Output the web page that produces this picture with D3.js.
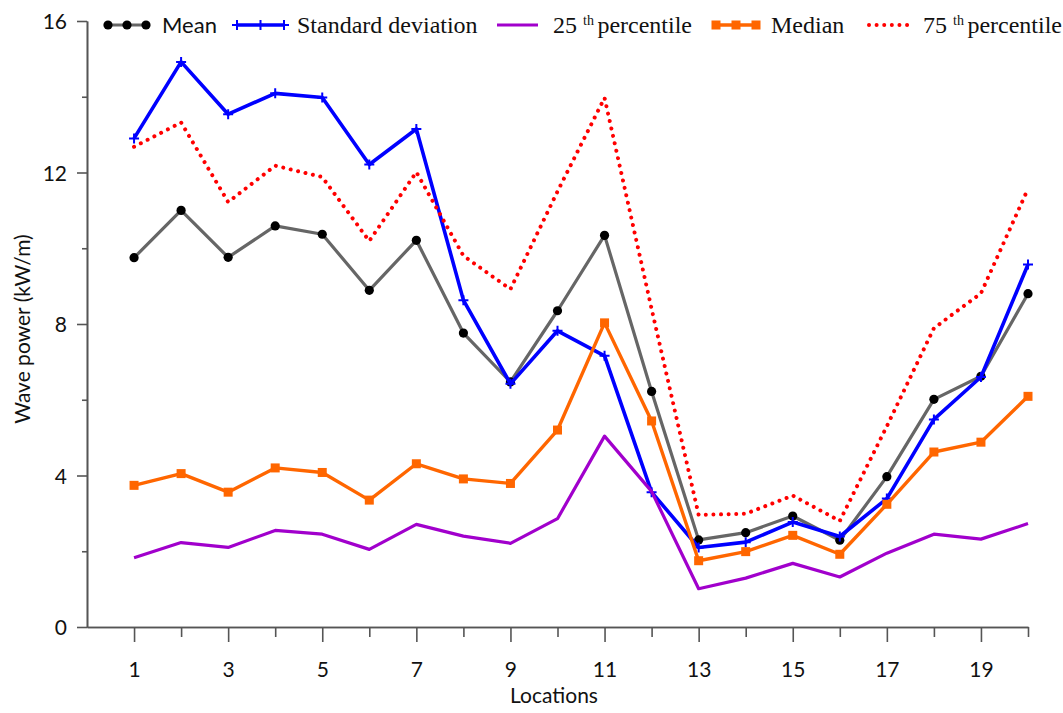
<!DOCTYPE html>
<html>
<head>
<meta charset="utf-8">
<script src="https://cdn.jsdelivr.net/npm/d3@7"></script>
<style>
  body { margin: 0; background: #fff; }
  svg { display: block; }
</style>
</head>
<body>
<svg id="chart" width="1063" height="713"></svg>
<script>
// values (kW/m)
var locations = [1, 2, 3, 4, 5, 6, 7, 8, 9, 10, 11, 12, 13, 14, 15, 16, 17, 18, 19, 20];
var meanVals = [9.75, 11.0, 9.76, 10.59, 10.37, 8.89, 10.21, 7.76, 6.47, 8.35, 10.34, 6.22, 2.3, 2.49, 2.93, 2.29, 3.97, 6.01, 6.62, 8.8];
var stdVals = [12.9, 14.92, 13.54, 14.09, 13.98, 12.21, 13.15, 8.63, 6.42, 7.82, 7.16, 3.56, 2.1, 2.24, 2.77, 2.39, 3.39, 5.48, 6.6, 9.57];
var p25Vals = [1.83, 2.23, 2.1, 2.55, 2.45, 2.05, 2.71, 2.4, 2.21, 2.86, 5.04, 3.58, 1.01, 1.29, 1.68, 1.32, 1.95, 2.45, 2.32, 2.73];
var medianVals = [3.74, 4.05, 3.56, 4.2, 4.08, 3.35, 4.31, 3.91, 3.79, 5.2, 8.03, 5.44, 1.75, 1.99, 2.42, 1.92, 3.24, 4.62, 4.88, 6.09];
var p75Vals = [12.68, 13.32, 11.22, 12.18, 11.88, 10.19, 12.01, 9.8, 8.92, 11.5, 13.97, 8.4, 2.96, 2.99, 3.47, 2.8, 5.3, 7.89, 8.81, 11.57];

var yMajor = [0, 4, 8, 12, 16];
var yMinor = [2, 6, 10, 14];
var xMajor = [1, 3, 5, 7, 9, 11, 13, 15, 17, 19];
var xMinor = [2, 4, 6, 8, 10, 12, 14, 16, 18, 20];

var sansFont = "Lato, 'Open Sans', sans-serif";
var serifFont = "'Liberation Serif', 'DejaVu Serif', serif";
var axisColor = "#555";

var svg = d3.select("#chart");
var x = d3.scaleLinear().domain([0, 20]).range([87, 1028]);
var y = d3.scaleLinear().domain([0, 16]).range([627, 21]);

//axes
var gy = svg.append("g").attr("transform", "translate(" + x(0) + ",0)");
gy.call(d3.axisLeft(y).tickValues(yMajor).tickSize(10).tickSizeOuter(0).tickPadding(10));
gy.append("g").call(d3.axisLeft(y).tickValues(yMinor).tickSize(5).tickSizeOuter(0).tickFormat(""));
gy.selectAll("text").style("font-family", sansFont).style("font-size", "21px").attr("fill", "#111").attr("dy", "0.36em");

var gx = svg.append("g").attr("transform", "translate(0," + y(0) + ")");
gx.call(d3.axisBottom(x).tickValues(xMajor).tickSize(15).tickSizeOuter(0));
gx.append("g").call(d3.axisBottom(x).tickValues(xMinor).tickSize(10).tickSizeOuter(0).tickFormat(""));
gx.selectAll("text").style("font-family", sansFont).style("font-size", "21px").attr("fill", "#111").attr("y", 50).attr("dy", 0);

svg.selectAll(".domain, .tick line").attr("stroke", axisColor).attr("stroke-width", 1.6);

svg.append("text").attr("x", 554).attr("y", 703).attr("text-anchor", "middle")
	.style("font-family", sansFont).style("font-size", "21px").attr("fill", "#111").text("Locations");
svg.append("text").attr("transform", "translate(30,329) rotate(-90)").attr("text-anchor", "middle")
	.style("font-family", sansFont).style("font-size", "21px").attr("fill", "#111").text("Wave power (kW/m)");

//series
var line = d3.line().x(function(d){return x(d[0]);}).y(function(d){return y(d[1]);});
function pairs(vals){ return locations.map(function(l, i){ return [l, vals[i]]; }); }

var series = [
	{key: "mean", vals: meanVals, color: "#666", width: 3.2, marker: "dot"},
	{key: "std", vals: stdVals, color: "#0000ff", width: 3.6, marker: "plus"},
	{key: "p25", vals: p25Vals, color: "#a100cc", width: 3.2, marker: null},
	{key: "median", vals: medianVals, color: "#ff6600", width: 3.4, marker: "square"},
	{key: "p75", vals: p75Vals, color: "#ff0000", width: 4, marker: null, dotted: true}
];

function drawMarkers(g, pts, s){
	if(s.marker === "dot"){
		g.selectAll("circle").data(pts).enter().append("circle")
			.attr("cx", function(d){return d[0];}).attr("cy", function(d){return d[1];})
			.attr("r", 4.6).attr("fill", "#000");
	}
	else if(s.marker === "square"){
		g.selectAll("rect").data(pts).enter().append("rect")
			.attr("x", function(d){return d[0] - 4.5;}).attr("y", function(d){return d[1] - 4.5;})
			.attr("width", 9).attr("height", 9).attr("fill", s.color);
	}
	else if(s.marker === "plus"){
		g.selectAll("path.plus").data(pts).enter().append("path").attr("class", "plus")
			.attr("d", function(d){return "M" + (d[0] - 5) + "," + d[1] + "H" + (d[0] + 5) + "M" + d[0] + "," + (d[1] - 5) + "V" + (d[1] + 5);})
			.attr("stroke", s.color).attr("stroke-width", 2);
	}
}

series.forEach(function(s){
	var g = svg.append("g").attr("class", "series-" + s.key);
	var path = g.append("path").datum(pairs(s.vals)).attr("d", line)
		.attr("fill", "none").attr("stroke", s.color).attr("stroke-width", s.width)
		.attr("stroke-linejoin", "round");
	if(s.dotted){
		path.attr("stroke-dasharray", "0.01 7.6").attr("stroke-linecap", "round");
	}
	drawMarkers(g, s.vals.map(function(v, i){ return [x(locations[i]), y(v)]; }), s);
});

//legend
var legendY = 25;
var legend = [
	{s: series[0], x0: 108, x1: 146, tx: 162, label: "Mean", font: sansFont, size: 22},
	{s: series[1], x0: 237, x1: 284, tx: 297, label: "Standard deviation", font: serifFont, size: 24},
	{s: series[2], x0: 497, x1: 538, tx: 553, label: ["25", "th", "percentile"], font: serifFont, size: 24},
	{s: series[3], x0: 716, x1: 756, tx: 771, label: "Median", font: serifFont, size: 24},
	{s: series[4], x0: 867, x1: 908, tx: 923, label: ["75", "th", "percentile"], font: serifFont, size: 24}
];

legend.forEach(function(l){
	var g = svg.append("g");
	var p = g.append("path").attr("d", "M" + l.x0 + "," + legendY + "H" + l.x1)
		.attr("stroke", l.s.color).attr("stroke-width", l.s.width).attr("fill", "none");
	if(l.s.dotted){
		p.attr("stroke-dasharray", "0.01 7.6").attr("stroke-linecap", "round")
			.attr("d", "M" + (l.x0 + 2) + "," + legendY + "H" + l.x1);
	}
	if(l.s.marker){
		var xm = (l.x0 + l.x1) / 2;
		drawMarkers(g, [[l.x0, legendY], [xm, legendY], [l.x1, legendY]], l.s);
	}
	var t = g.append("text").attr("x", l.tx).attr("y", legendY + 8)
		.style("font-family", l.font).style("font-size", l.size + "px").attr("fill", "#111")
		.attr("xml:space", "preserve").style("white-space", "pre");
	if(typeof l.label === "string"){
		t.text(l.label);
	}
	else{
		t.append("tspan").text(l.label[0] + " ");
		t.append("tspan").attr("dy", -8).style("font-size", "14px").text(l.label[1] + " ");
		t.append("tspan").attr("dy", 8).text(l.label[2]);
	}
});
</script>
</body>
</html>
